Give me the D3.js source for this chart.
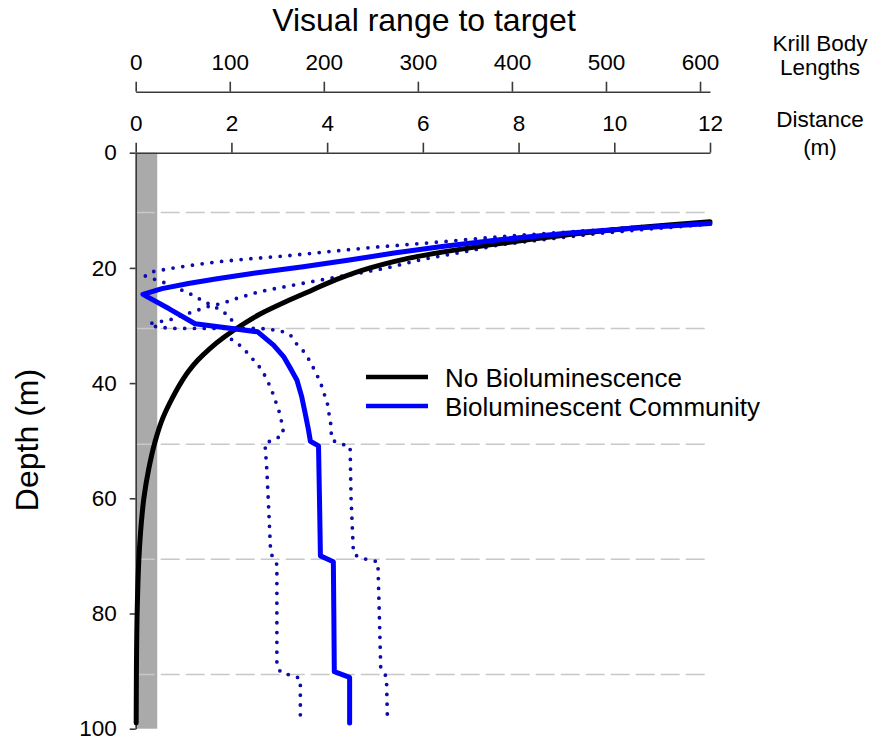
<!DOCTYPE html>
<html>
<head>
<meta charset="utf-8">
<script src="https://cdn.jsdelivr.net/npm/d3@7/dist/d3.min.js"></script>
<style>
  html, body { margin: 0; padding: 0; background: #fff; }
  svg { display: block; font-family: "Liberation Sans", Arial, sans-serif; }
</style>
</head>
<body>
<svg id="chart" width="875" height="742"></svg>
<script>
// ---------- data ----------
const depthTicks = [0, 20, 40, 60, 80, 100];
const distanceTicks = [0, 2, 4, 6, 8, 10, 12];
const krillTicks = [0, 100, 200, 300, 400, 500, 600];
const gridDepths = [10.4, 30.5, 50.6, 70.6, 90.6];
const shadedBand = [0, 0.45]; // distance range of grey band (m)

// No Bioluminescence (black)
const noBioDepth = [12, 12.5, 13, 14, 15, 16, 17, 18, 20, 22, 24, 26, 28, 30, 32, 34, 36, 38, 40, 43, 46, 50, 55, 60, 65, 70, 80, 90, 99];
const noBioDist  = [12.0, 11.2, 10.5, 9.3, 8.3, 7.4, 6.6, 5.9, 4.9, 4.2, 3.65, 3.1, 2.6, 2.2, 1.85, 1.55, 1.3, 1.1, 0.94, 0.74, 0.57, 0.41, 0.27, 0.17, 0.11, 0.07, 0.03, 0.015, 0.01];

// Bioluminescent Community (blue, solid)
const bioDepth = [12.3, 13.1, 14.0, 15.1, 16.3, 17.4, 18.6, 19.8, 20.9, 21.9, 22.7, 23.6, 24.6, 27.1, 29.7, 31.1, 33.4, 35.4, 37.4, 39.5, 42.4, 45.2, 48.1, 50.1, 50.9, 60, 70.0, 71.0, 80, 90.1, 91.1, 99];
const bioDist  = [12.0, 10.4, 9.0, 7.6, 6.4, 5.4, 4.5, 3.5, 2.5, 1.7, 1.1, 0.55, 0.15, 0.7, 1.24, 2.55, 2.88, 3.09, 3.23, 3.37, 3.47, 3.54, 3.61, 3.65, 3.82, 3.84, 3.86, 4.13, 4.14, 4.15, 4.47, 4.47];

// Lower bound (dotted)
const lowDepth = [12.1, 12.7, 13.4, 14.0, 14.6, 15.6, 16.4, 17.2, 17.9, 18.4, 18.9, 19.5, 20.1, 20.7, 21.4, 22.0, 22.6, 24.0, 24.9, 25.8, 26.6, 27.6, 28.8, 30.5, 32.4, 33.7, 35.3, 37.0, 38.7, 40.6, 42.1, 43.8, 45.5, 47.3, 48.8, 49.8, 50.4, 55, 62, 69.5, 70.4, 71.5, 80, 89.2, 90.4, 90.7, 91.3, 98.5];
const lowDist  = [12.0, 10.8, 9.7, 8.6, 7.6, 6.2, 5.0, 4.0, 3.16, 2.4, 1.76, 1.2, 0.72, 0.33, 0.2, 0.4, 0.61, 1.0, 1.24, 1.41, 1.62, 1.83, 2.0, 2.02, 2.0, 2.22, 2.39, 2.57, 2.70, 2.81, 2.88, 2.95, 3.02, 3.06, 3.09, 2.91, 2.70, 2.74, 2.78, 2.82, 2.88, 2.95, 2.95, 2.95, 3.05, 3.26, 3.44, 3.44];

// Upper bound (dotted)
const upDepth = [12.4, 13.2, 14.0, 15.0, 16.0, 17.3, 18.5, 20.0, 21.1, 22.1, 23.2, 24.1, 25.3, 25.8, 26.3, 26.7, 27.3, 27.9, 29.0, 29.4, 29.7, 30.3, 30.5, 30.5, 30.9, 31.6, 32.9, 34.5, 36.3, 38.0, 39.8, 41.5, 43.2, 45.0, 46.4, 48.1, 49.9, 50.5, 51.0, 60, 69.6, 70.2, 70.7, 71.0, 80, 89.5, 91.0, 98.5];
const upDist  = [12.0, 10.8, 9.7, 8.6, 7.6, 6.8, 6.0, 5.25, 4.55, 3.86, 3.16, 2.6, 2.11, 1.94, 1.73, 1.52, 1.31, 1.1, 0.72, 0.45, 0.28, 0.45, 0.8, 2.6, 3.02, 3.23, 3.33, 3.51, 3.65, 3.75, 3.86, 3.92, 4.0, 4.03, 4.07, 4.08, 4.1, 4.27, 4.48, 4.5, 4.55, 4.66, 4.87, 5.06, 5.09, 5.12, 5.24, 5.26];

const legendLabels = ["No Bioluminescence", "Bioluminescent Community"];
const legendColors = ["#000000", "#0000ff"];

// ---------- layout ----------
const svg = d3.select("#chart");
const x = d3.scaleLinear().domain([0, 12]).range([135.7, 710]);
const xK = d3.scaleLinear().domain([0, 610.6]).range([135.7, 710]);
const y = d3.scaleLinear().domain([0, 100]).range([152.7, 728.7]);

const axisColor = "#3a3a3a";
const tickFont = 22.5;

// grey band
svg.append("rect")
  .attr("x", x(shadedBand[0])).attr("y", y(0))
  .attr("width", x(shadedBand[1]) - x(shadedBand[0]))
  .attr("height", y(100) - y(0))
  .attr("fill", "#aaaaaa");

// dashed grid lines
svg.append("g").selectAll("line").data(gridDepths).join("line")
  .attr("x1", x(0)).attr("x2", x(12))
  .attr("y1", d => y(d)).attr("y2", d => y(d))
  .attr("stroke", "#c8c8c8").attr("stroke-width", 1.5)
  .attr("stroke-dasharray", "19,6");

function styleAxis(g) {
  g.select(".domain").attr("stroke", axisColor).attr("stroke-width", 1.6);
  g.selectAll(".tick line").attr("stroke", axisColor).attr("stroke-width", 1.6);
  g.selectAll(".tick text").attr("fill", "#000").attr("font-size", tickFont)
    .attr("font-family", "Liberation Sans, Arial, sans-serif");
}

// krill axis
const gK = svg.append("g").attr("transform", `translate(0,91.7)`)
  .call(d3.axisTop(xK).tickValues(krillTicks).tickSize(10).tickSizeOuter(0).tickPadding(12));
styleAxis(gK);

// distance axis
const gD = svg.append("g").attr("transform", `translate(0,${y(0)})`)
  .call(d3.axisTop(x).tickValues(distanceTicks).tickSize(10).tickSizeOuter(0).tickPadding(12));
styleAxis(gD);

// depth axis
const gY = svg.append("g").attr("transform", `translate(${x(0)},0)`)
  .call(d3.axisLeft(y).tickValues(depthTicks).tickSize(6).tickSizeOuter(0).tickPadding(13));
styleAxis(gY);

// axis titles
svg.append("text").attr("x", 424).attr("y", 31).attr("text-anchor", "middle")
  .attr("font-size", 32).text("Visual range to target");
svg.append("text").attr("transform", "translate(38,440) rotate(-90)")
  .attr("text-anchor", "middle").attr("font-size", 32).text("Depth (m)");
const sideLabels = [["Krill Body", 51], ["Lengths", 75], ["Distance", 127], ["(m)", 155]];
svg.append("g").selectAll("text").data(sideLabels).join("text")
  .attr("x", 820).attr("y", d => d[1]).attr("text-anchor", "middle")
  .attr("font-size", 22.5).text(d => d[0]);

// lines
const line = d3.line().x(d => x(d[0])).y(d => y(d[1]));
const zip = (a, b) => a.map((v, i) => [v, b[i]]);

const dotted = [zip(lowDist, lowDepth), zip(upDist, upDepth)];
svg.append("g").selectAll("path").data(dotted).join("path")
  .attr("d", line).attr("fill", "none")
  .attr("stroke", "#0c0caa").attr("stroke-width", 3.8)
  .attr("stroke-linecap", "round").attr("stroke-dasharray", "0,9.8");

svg.append("path")
  .attr("d", d3.line().x(d => x(d[0])).y(d => y(d[1])).curve(d3.curveMonotoneY)(zip(noBioDist, noBioDepth)))
  .attr("fill", "none").attr("stroke", "#000").attr("stroke-width", 5)
  .attr("stroke-linecap", "round").attr("stroke-linejoin", "round");

svg.append("path")
  .attr("d", line(zip(bioDist, bioDepth)))
  .attr("fill", "none").attr("stroke", "#0000ff").attr("stroke-width", 5)
  .attr("stroke-linecap", "round").attr("stroke-linejoin", "round");

// legend
const lg = svg.append("g");
legendLabels.forEach((lab, i) => {
  const ly = 377 + i * 29;
  lg.append("line").attr("x1", 366).attr("x2", 428).attr("y1", ly).attr("y2", ly)
    .attr("stroke", legendColors[i]).attr("stroke-width", 4.5);
  lg.append("text").attr("x", 445).attr("y", ly + 9.5).attr("font-size", 26).text(lab);
});
</script>
</body>
</html>
